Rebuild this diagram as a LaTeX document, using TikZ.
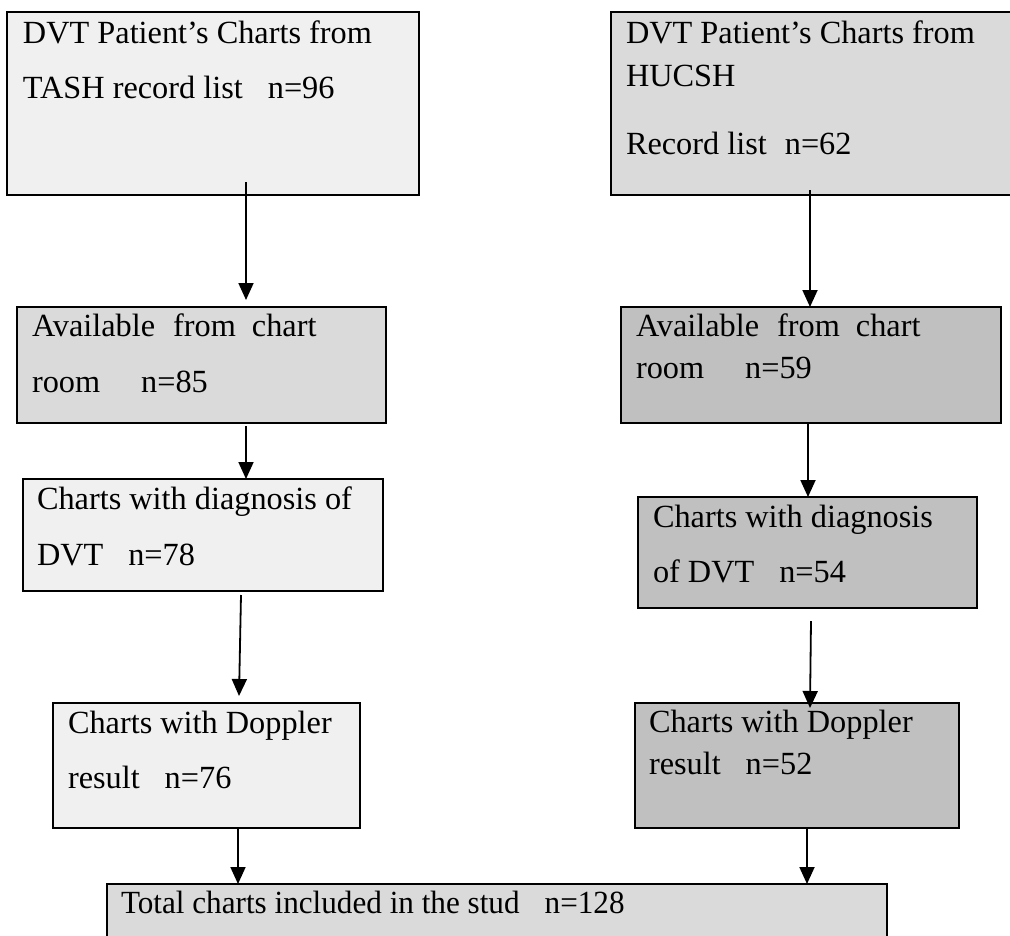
\documentclass[tikz,border=0pt]{standalone}
\usepackage{fontspec}
\usepackage{graphicx}
\setmainfont{Liberation Serif}
\usetikzlibrary{arrows.meta}
\definecolor{lite}{HTML}{F0F0F0}
\definecolor{mid}{HTML}{DADADA}
\definecolor{dark}{HTML}{C0C0C0}
\newcommand{\mkbox}[6]{%
  \node[boxnode, fill=#6, minimum width={(#4)-(#2)}, minimum height={(#5)-(#3)}]
    (#1) at ({((#2)+(#4))/2},{((#3)+(#5))/2}) {};}
\begin{document}
\begin{tikzpicture}[x=1pt,y=-1pt,
  boxnode/.style={draw=black, line width=1.8pt, rectangle, inner sep=0pt, outer sep=0pt},
  txt/.style={anchor=base west, inner sep=0pt, outer sep=0pt, font=\fontsize{32.3}{36}\selectfont},
  arr/.style={line width=1.8pt, -{Triangle[length=17pt,width=15pt]}}]
\useasboundingbox (0,0) rectangle (1010,935);
\fill[white] (0,0) rectangle (1010,935);
\mkbox{L1}{7}{12}{419}{195}{lite}
\mkbox{R1}{611}{12}{1020}{195}{mid}
\mkbox{L2}{17}{307}{386}{423}{mid}
\mkbox{R2}{621}{307}{1001}{423}{dark}
\mkbox{L3}{23}{479}{383}{591}{lite}
\mkbox{R3}{638}{497}{977}{608}{dark}
\mkbox{L4}{53}{703}{360}{828}{lite}
\mkbox{R4}{635}{703}{959}{828}{dark}
\mkbox{T}{107}{884}{887}{960}{mid}
% texts
\node[txt] (l1a) at (23,43) {DVT Patient’s Charts from};
\node[txt] (l1b) at (23,98) {TASH record list\hspace{25pt}n=96};
\node[txt] (r1a) at (626,43) {DVT Patient’s Charts from};
\node[txt] (r1b) at (626,86) {HUCSH};
\node[txt] (r1c) at (626,154) {Record list\hspace{18pt}n=62};
\node[txt] (l2a) at (32,336) {Available\hspace{18pt}from\hspace{16pt}chart};
\node[txt] (l2b) at (32,392) {room\hspace{41pt}n=85};
\node[txt] (r2a) at (636,336) {Available\hspace{18pt}from\hspace{16pt}chart};
\node[txt] (r2b) at (636,378) {room\hspace{41pt}n=59};
\node[txt] (l3a) at (37,509) {Charts with diagnosis of};
\node[txt] (l3b) at (37,565) {DVT\hspace{25pt}n=78};
\node[txt] (r3a) at (653,527) {Charts with diagnosis};
\node[txt] (r3b) at (653,582) {of DVT\hspace{25pt}n=54};
\node[txt] (l4a) at (68,733) {Charts with Doppler};
\node[txt] (l4b) at (68,788) {result\hspace{25pt}n=76};
\node[txt] (r4a) at (649,732) {Charts with Doppler};
\node[txt] (r4b) at (649,774) {result\hspace{25pt}n=52};
\node[txt] (ta) at (121,913) {\scalebox{0.965}[1]{Total charts included in the stud\hspace{26pt}n=128}};
% arrows
\draw[arr] ([xshift=239pt,yshift=13pt]L1.south west) -- ([xshift=229pt,yshift=7pt]L2.north west);
\draw[arr] ([xshift=199pt,yshift=5pt]R1.south west) -- ([xshift=189pt]R2.north west);
\draw[arr] ([xshift=229pt,yshift=-3pt]L2.south west) -- ([xshift=223pt]L3.north west);
\draw[arr] ([xshift=187pt]R2.south west) -- ([xshift=170pt]R3.north west);
\draw[arr] ([xshift=218pt,yshift=-4pt]L3.south west) -- ([xshift=186pt,yshift=7pt]L4.north west);
\draw[arr] ([xshift=173pt,yshift=-13pt]R3.south west) -- ([xshift=175pt,yshift=-5pt]R4.north west);
\draw[arr] ([xshift=185pt]L4.south west) -- ([xshift=131pt]T.north west);
\draw[arr] ([xshift=172pt]R4.south west) -- ([xshift=700pt]T.north west);
\end{tikzpicture}
\end{document}
